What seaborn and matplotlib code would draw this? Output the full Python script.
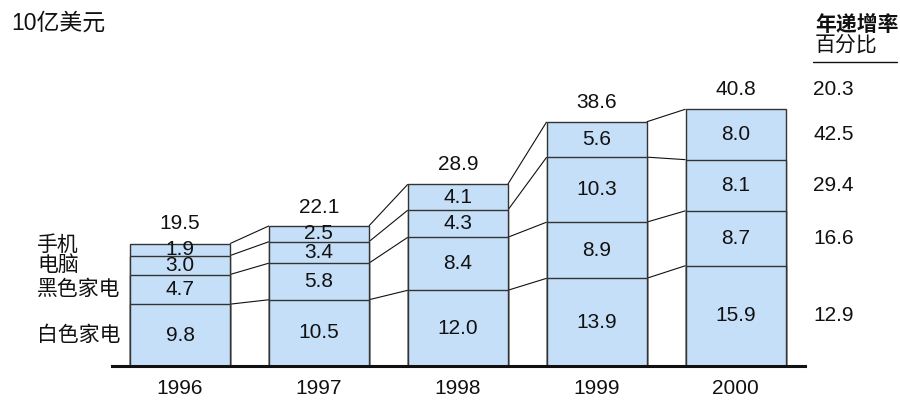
import matplotlib
matplotlib.use("Agg")
import matplotlib.pyplot as plt
import seaborn as sns
import numpy as np
import pandas as pd

years = ["1996", "1997", "1998", "1999", "2000"]
categories = ["白色家电", "黑色家电", "电脑", "手机"]
white = [9.8, 10.5, 12.0, 13.9, 15.9]
black = [4.7, 5.8, 8.4, 8.9, 8.7]
pc = [3.0, 3.4, 4.3, 10.3, 8.1]
mobile = [1.9, 2.5, 4.1, 5.6, 8.0]
totals = [19.5, 22.1, 28.9, 38.6, 40.8]
growth_total = "20.3"
growth = ["12.9", "16.6", "29.4", "42.5"]  # bottom to top

sns.set_theme(style="white")
plt.rcParams["font.family"] = ["Liberation Sans", "Noto Sans CJK SC", "DejaVu Sans"]

W, H = 900, 401
fig = plt.figure(figsize=(9, 4.01), dpi=100)
base_px = 366
px_per_unit = 6.31
ymax = 50
ax = fig.add_axes([112 / W, (H - base_px) / H, (805 - 112) / W, ymax * px_per_unit / H])

layers = [white, black, pc, mobile]
cum = np.cumsum(np.array(layers), axis=0)  # 4 x 5
fill = "#C6DFF8"
bw = 0.72

# draw from top (largest cumulative) down so lower segments overlay
for k in range(len(layers) - 1, -1, -1):
    df = pd.DataFrame({"year": years, "value": cum[k]})
    sns.barplot(data=df, x="year", y="value", color=fill, width=bw,
                edgecolor="#333333", linewidth=1.0, saturation=1, ax=ax, zorder=2)

# connector lines between bars at each boundary
for k in range(len(layers)):
    for i in range(len(years) - 1):
        ax.plot([i + bw / 2, i + 1 - bw / 2], [cum[k][i], cum[k][i + 1]],
                color="#111111", lw=0.8, zorder=1, solid_capstyle="butt")

fs = 15
# segment labels
for k in range(len(layers)):
    lower = cum[k - 1] if k > 0 else np.zeros(len(years))
    for i in range(len(years)):
        ax.text(i, lower[i] + layers[k][i] / 2, f"{layers[k][i]:.1f}",
                ha="center", va="center", fontsize=fs, color="#111111", zorder=5)

# totals
for i, t in enumerate(totals):
    ax.annotate(f"{t:.1f}", xy=(i, t), xytext=(0, 14), textcoords="offset points",
                ha="center", va="center", fontsize=fs, color="#111111")

# left category labels (segment centres of first bar), left-aligned
label_nudge = [0, 0, 0, 3]
for k, name in enumerate(categories):
    lower = cum[k - 1][0] if k > 0 else 0
    ax.annotate(name, xy=(37 / W, lower + layers[k][0] / 2),
                xycoords=("figure fraction", "data"),
                xytext=(0, label_nudge[k]), textcoords="offset points",
                ha="left", va="center",
                fontsize=fs, color="#111111", annotation_clip=False)

# right growth column (segment centres of last bar)
for k, g in enumerate(growth):
    lower = cum[k - 1][-1] if k > 0 else 0
    ax.annotate(g, xy=(813 / W, lower + layers[k][-1] / 2),
                xycoords=("figure fraction", "data"), ha="left", va="center",
                fontsize=fs, color="#111111", annotation_clip=False)
ax.annotate(growth_total, xy=(813 / W, totals[-1]), xycoords=("figure fraction", "data"),
            xytext=(0, 14), textcoords="offset points", ha="left", va="center",
            fontsize=fs, color="#111111", annotation_clip=False)

# headers
fig.text(11 / W, 1 - 23 / H, "10亿美元", ha="left", va="center", fontsize=16.5, color="#111111")
fig.text(815 / W, 1 - 25 / H, "年递增率", ha="left", va="center", fontsize=15,
         fontweight="bold", color="#111111")
fig.text(815 / W, 1 - 45 / H, "百分比", ha="left", va="center", fontsize=15, color="#111111")
fig.add_artist(plt.Line2D([813 / W, 897 / W], [1 - 62 / H, 1 - 62 / H],
                          transform=fig.transFigure, color="#111111", lw=1.0))

ax.set_xlim(-0.49, 4.50)
ax.set_ylim(0, ymax)
ax.set_xlabel("")
ax.set_ylabel("")
ax.set_yticks([])
for s in ["top", "right", "left"]:
    ax.spines[s].set_visible(False)
ax.spines["bottom"].set_linewidth(2.2)
ax.spines["bottom"].set_color("#111111")
ax.spines["bottom"].set_zorder(6)
ax.tick_params(axis="x", length=0, pad=9, labelsize=fs, labelcolor="#111111")
ax.patch.set_alpha(0)

fig.savefig("out.png", dpi=100)
